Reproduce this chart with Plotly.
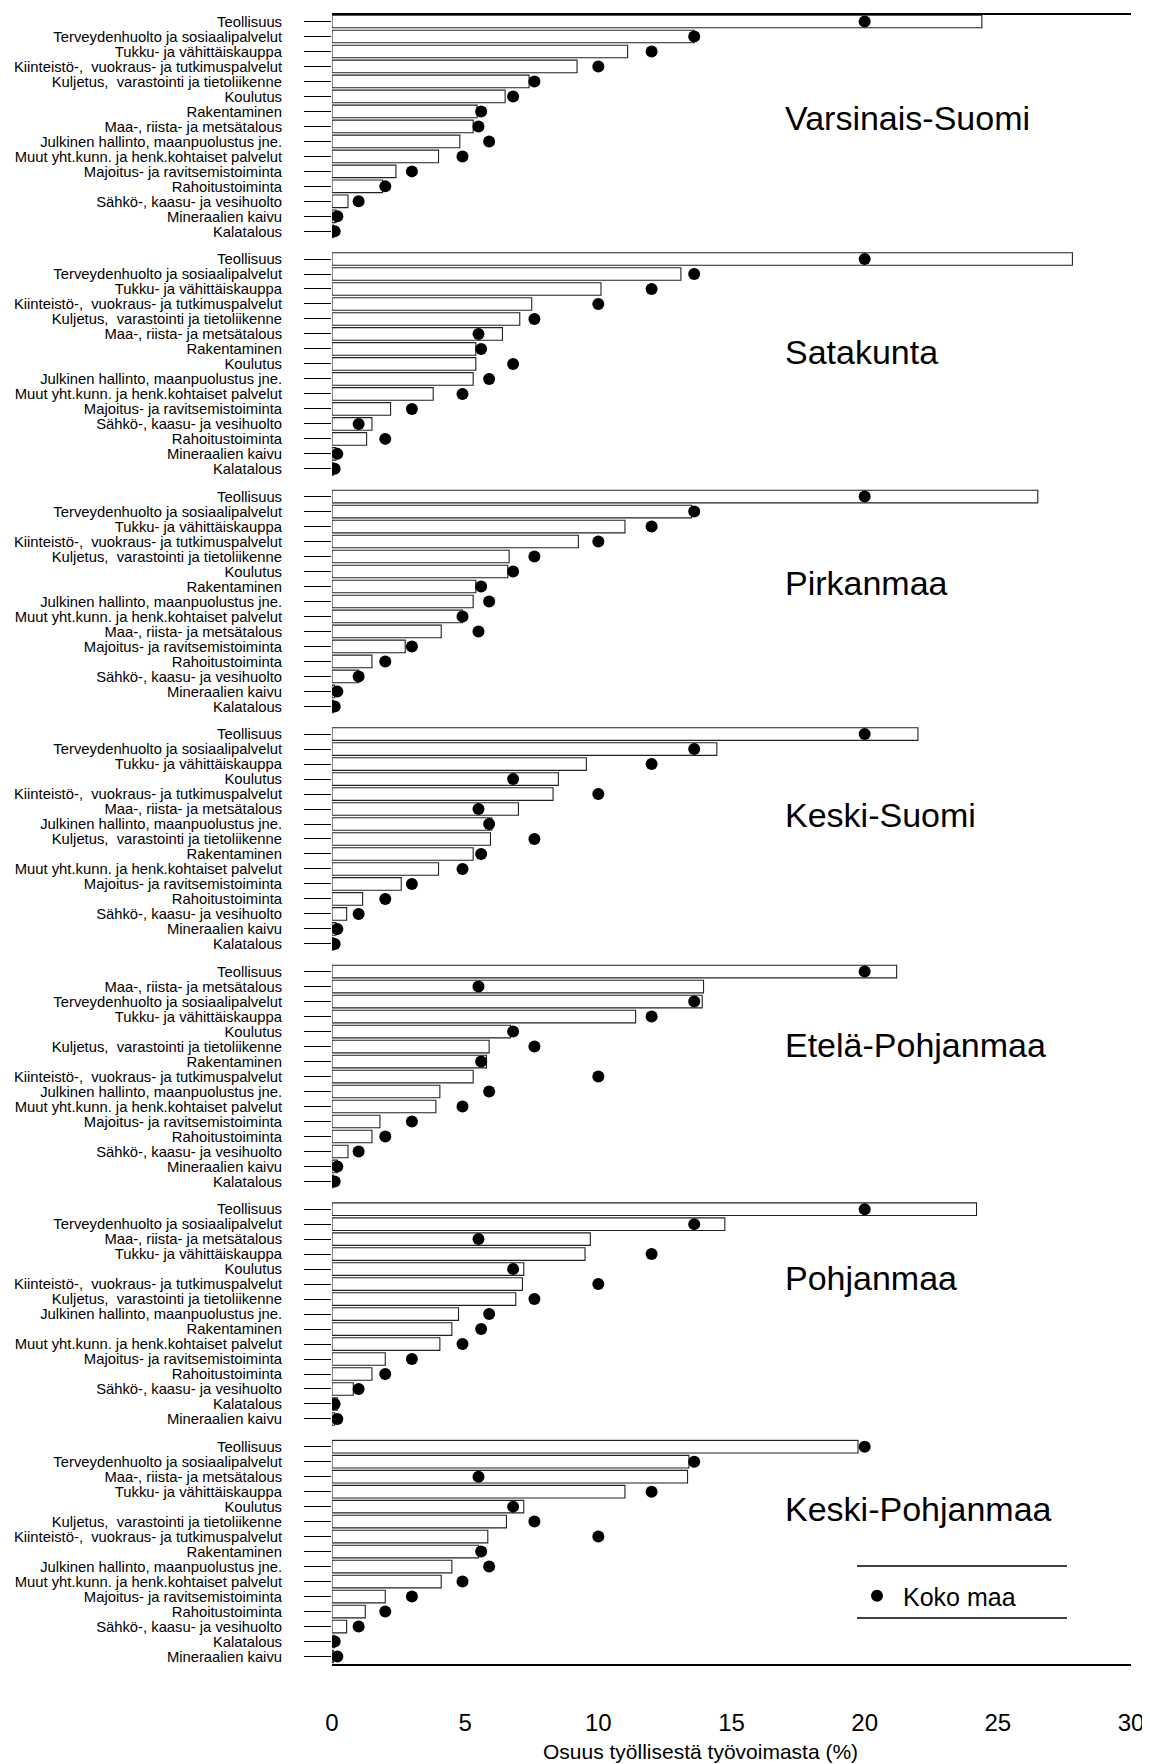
import plotly.graph_objects as go
from plotly.subplots import make_subplots

# ---------------- data ----------------
regions = ["Varsinais-Suomi", "Satakunta", "Pirkanmaa", "Keski-Suomi",
           "Etelä-Pohjanmaa", "Pohjanmaa", "Keski-Pohjanmaa"]

TEO = "Teollisuus"
TER = "Terveydenhuolto ja sosiaalipalvelut"
TUK = "Tukku- ja vähittäiskauppa"
KII = "Kiinteistö-,  vuokraus- ja tutkimuspalvelut"
KUL = "Kuljetus,  varastointi ja tietoliikenne"
KOU = "Koulutus"
RAK = "Rakentaminen"
MAA = "Maa-, riista- ja metsätalous"
JUL = "Julkinen hallinto, maanpuolustus jne."
MUU = "Muut yht.kunn. ja henk.kohtaiset palvelut"
MAJ = "Majoitus- ja ravitsemistoiminta"
RAH = "Rahoitustoiminta"
SAH = "Sähkö-, kaasu- ja vesihuolto"
MIN = "Mineraalien kaivu"
KAL = "Kalatalous"

# Koko maa (whole country), same in each panel
koko_maa_categories = [TEO, TER, TUK, KII, KUL, KOU, RAK, MAA, JUL, MUU, MAJ, RAH, SAH, MIN, KAL]
koko_maa_values = [20.0, 13.6, 12.0, 10.0, 7.6, 6.8, 5.6, 5.5, 5.9, 4.9, 3.0, 2.0, 1.0, 0.2, 0.1]

varsinais_suomi_order = [TEO, TER, TUK, KII, KUL, KOU, RAK, MAA, JUL, MUU, MAJ, RAH, SAH, MIN, KAL]
varsinais_suomi_values = [24.4, 13.6, 11.1, 9.2, 7.4, 6.5, 5.45, 5.3, 4.8, 4.0, 2.4, 1.9, 0.6, 0.15, 0.05]

satakunta_order = [TEO, TER, TUK, KII, KUL, MAA, RAK, KOU, JUL, MUU, MAJ, SAH, RAH, MIN, KAL]
satakunta_values = [27.8, 13.1, 10.1, 7.5, 7.05, 6.4, 5.4, 5.4, 5.3, 3.8, 2.2, 1.5, 1.3, 0.15, 0.05]

pirkanmaa_order = [TEO, TER, TUK, KII, KUL, KOU, RAK, JUL, MUU, MAA, MAJ, RAH, SAH, MIN, KAL]
pirkanmaa_values = [26.5, 13.5, 11.0, 9.25, 6.65, 6.6, 5.4, 5.3, 4.9, 4.1, 2.75, 1.5, 1.0, 0.1, 0.05]

keski_suomi_order = [TEO, TER, TUK, KOU, KII, MAA, JUL, KUL, RAK, MUU, MAJ, RAH, SAH, MIN, KAL]
keski_suomi_values = [22.0, 14.45, 9.55, 8.5, 8.3, 7.0, 6.0, 5.95, 5.3, 4.0, 2.6, 1.15, 0.55, 0.15, 0.05]

etela_pohjanmaa_order = [TEO, MAA, TER, TUK, KOU, KUL, RAK, KII, JUL, MUU, MAJ, RAH, SAH, MIN, KAL]
etela_pohjanmaa_values = [21.2, 13.95, 13.9, 11.4, 6.7, 5.9, 5.8, 5.3, 4.05, 3.9, 1.8, 1.5, 0.6, 0.2, 0.05]

pohjanmaa_order = [TEO, TER, MAA, TUK, KOU, KII, KUL, JUL, RAK, MUU, MAJ, RAH, SAH, KAL, MIN]
pohjanmaa_values = [24.2, 14.75, 9.7, 9.5, 7.2, 7.15, 6.9, 4.75, 4.5, 4.05, 2.0, 1.5, 0.8, 0.2, 0.1]

keski_pohjanmaa_order = [TEO, TER, MAA, TUK, KOU, KUL, KII, RAK, JUL, MUU, MAJ, RAH, SAH, KAL, MIN]
keski_pohjanmaa_values = [19.75, 13.4, 13.35, 11.0, 7.2, 6.55, 5.85, 5.5, 4.5, 4.1, 2.0, 1.25, 0.55, 0.1, 0.05]

panel_orders = [varsinais_suomi_order, satakunta_order, pirkanmaa_order, keski_suomi_order,
                etela_pohjanmaa_order, pohjanmaa_order, keski_pohjanmaa_order]
panel_values = [varsinais_suomi_values, satakunta_values, pirkanmaa_values, keski_suomi_values,
                etela_pohjanmaa_values, pohjanmaa_values, keski_pohjanmaa_values]

x_ticks = [0, 5, 10, 15, 20, 25, 30]
x_title = "Osuus työllisestä työvoimasta (%)"
legend_name = "Koko maa"

# ---------------- figure ----------------
# page body has an 8px margin; figure offset accounted for in pixel helpers
W, H = 1142, 1756
ML, MR, MT, MB = 324, 19, 6, 100
plot_h = H - MT - MB
plot_w = W - ML - MR
OFF = 8  # body margin offset (screen px)
FONT = "Liberation Sans, Arial, Helvetica, sans-serif"

fig = make_subplots(rows=7, cols=1, shared_xaxes=True, vertical_spacing=0.0077)

koko = dict(zip(koko_maa_categories, koko_maa_values))

for i, (order, vals) in enumerate(zip(panel_orders, panel_values)):
    r = i + 1
    fig.add_trace(go.Bar(
        x=vals, y=order, orientation="h", width=0.84,
        marker=dict(color="white", line=dict(color="#222222", width=1.1)),
        showlegend=False, hoverinfo="x+y"), row=r, col=1)
    fig.add_trace(go.Scatter(
        x=[koko[c] for c in order], y=order, mode="markers",
        marker=dict(color="black", size=12, line=dict(width=0)),
        name=legend_name, showlegend=(i == 0)), row=r, col=1)
    fig.update_yaxes(type="category", categoryorder="array", categoryarray=order,
                     tickmode="array", tickvals=order, ticktext=order,
                     range=[14.5, -0.5], ticks="outside", ticklen=27, tickwidth=1.3,
                     tickcolor="black", showline=False, showgrid=False, zeroline=False,
                     tickfont=dict(family=FONT, size=14.8, color="black"),
                     ticklabelstandoff=19, automargin=False, row=r, col=1)
    fig.update_xaxes(range=[0, 30], showgrid=False, zeroline=False, automargin=False,
                     showline=False, showticklabels=False, ticks="", row=r, col=1)

fig.update_xaxes(showline=True, linecolor="black", linewidth=1.5,
                 showticklabels=True, tickvals=x_ticks, ticks="",
                 tickfont=dict(family=FONT, size=24, color="black"),
                 ticklabelstandoff=36, row=7, col=1)

# helpers: convert screen pixel positions to paper fractions
def py2paper(py):
    return 1 - (py - OFF - MT) / plot_h

def px2paper(px):
    return (px - OFF - ML) / plot_w

# region names
region_px = [118, 352, 583, 815, 1045, 1278, 1509]
annotations = []
for name, py in zip(regions, region_px):
    annotations.append(dict(text=name, xref="paper", yref="paper",
                            x=px2paper(783), y=py2paper(py),
                            xanchor="left", yanchor="middle", showarrow=False,
                            font=dict(family=FONT, size=34, color="black")))
annotations.append(dict(text=x_title, xref="paper", yref="paper",
                        x=px2paper(700), y=py2paper(1751),
                        xanchor="center", yanchor="middle", showarrow=False,
                        font=dict(family=FONT, size=21, color="black")))

shapes = [
    dict(type="line", xref="paper", yref="paper", x0=0, x1=1, y0=1, y1=1,
         line=dict(color="black", width=2.2)),
    dict(type="line", xref="paper", yref="paper", x0=px2paper(857), x1=px2paper(1067),
         y0=py2paper(1566), y1=py2paper(1566), line=dict(color="black", width=1.3)),
    dict(type="line", xref="paper", yref="paper", x0=px2paper(857), x1=px2paper(1067),
         y0=py2paper(1618), y1=py2paper(1618), line=dict(color="black", width=1.3)),
]

fig.update_layout(
    width=W, height=H,
    margin=dict(l=ML, r=MR, t=MT, b=MB, autoexpand=False),
    paper_bgcolor="white", plot_bgcolor="white",
    bargap=0.1,
    annotations=annotations, shapes=shapes,
    showlegend=True,
    legend=dict(x=px2paper(851), y=py2paper(1596), xanchor="left", yanchor="middle",
                bgcolor="rgba(0,0,0,0)", borderwidth=0, itemwidth=42,
                font=dict(family=FONT, size=25, color="black")),
    font=dict(family=FONT, color="black"),
)

fig.write_html("out.html")
